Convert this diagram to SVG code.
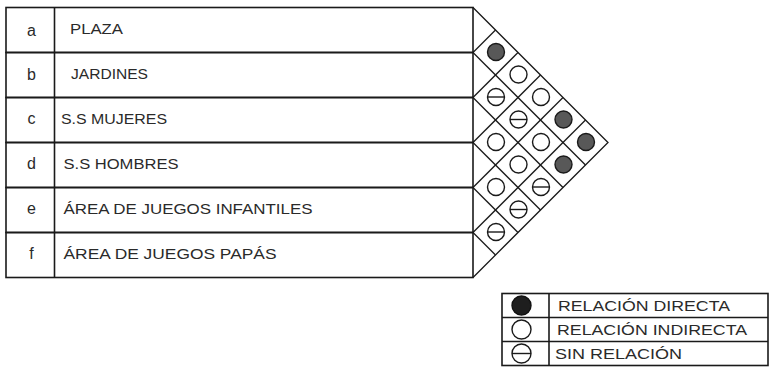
<svg xmlns="http://www.w3.org/2000/svg" width="770" height="369" viewBox="0 0 770 369">
<style>
.tbl{fill:none;stroke:#1a1a1a;stroke-width:1.6}
.grid{fill:none;stroke:#1a1a1a;stroke-width:1.3}
.t{font-family:"Liberation Sans",Arial,sans-serif;font-size:14px;fill:#2a2a2a}
.k{font-family:"Liberation Sans",Arial,sans-serif;font-size:16px;fill:#2a2a2a;text-anchor:middle}
.lt{font-family:"Liberation Sans",Arial,sans-serif;font-size:15px;fill:#2a2a2a}
.d{fill:#585858;stroke:#1a1a1a;stroke-width:1.4}
.o{fill:#fff;stroke:#1a1a1a;stroke-width:1.4}
.m{stroke:#1a1a1a;stroke-width:1.4}
</style>
<defs>
<circle id="cd" r="8.5" class="d"/>
<circle id="co" r="8.5" class="o"/>
<g id="cm"><circle r="8.5" class="o"/><line x1="-8.5" y1="0" x2="8.5" y2="0" class="m"/></g>
</defs>
<rect width="770" height="369" fill="#fff"/>

<g id="row-a"><rect x="6" y="7.5" width="467" height="45" class="tbl"/><line x1="54.5" y1="7.5" x2="54.5" y2="52.5" class="tbl"/><text x="31.5" y="36" class="k">a</text><text x="70" y="33.5" class="t" textLength="53" lengthAdjust="spacingAndGlyphs">PLAZA</text></g>
<g id="row-b"><rect x="6" y="52.5" width="467" height="45" class="tbl"/><line x1="54.5" y1="52.5" x2="54.5" y2="97.5" class="tbl"/><text x="31.5" y="80" class="k">b</text><text x="71" y="79" class="t" textLength="77" lengthAdjust="spacingAndGlyphs">JARDINES</text></g>
<g id="row-c"><rect x="6" y="97.5" width="467" height="45" class="tbl"/><line x1="54.5" y1="97.5" x2="54.5" y2="142.5" class="tbl"/><text x="31.5" y="124" class="k">c</text><text x="61" y="124" class="t" textLength="106" lengthAdjust="spacingAndGlyphs">S.S MUJERES</text></g>
<g id="row-d"><rect x="6" y="142.5" width="467" height="45" class="tbl"/><line x1="54.5" y1="142.5" x2="54.5" y2="187.5" class="tbl"/><text x="31.5" y="168.5" class="k">d</text><text x="63.5" y="168.5" class="t" textLength="115" lengthAdjust="spacingAndGlyphs">S.S HOMBRES</text></g>
<g id="row-e"><rect x="6" y="187.5" width="467" height="45" class="tbl"/><line x1="54.5" y1="187.5" x2="54.5" y2="232.5" class="tbl"/><text x="31.5" y="213.5" class="k">e</text><text x="63.5" y="213.5" class="t" textLength="249" lengthAdjust="spacingAndGlyphs">ÁREA DE JUEGOS INFANTILES</text></g>
<g id="row-f"><rect x="6" y="232.5" width="467" height="45" class="tbl"/><line x1="54.5" y1="232.5" x2="54.5" y2="277.5" class="tbl"/><text x="31.5" y="258.5" class="k">f</text><text x="63.5" y="258.5" class="t" textLength="213" lengthAdjust="spacingAndGlyphs">ÁREA DE JUEGOS PAPÁS</text></g>

<g id="connectors">
<polyline points="473,7.5 608,142.5 473,277.5" class="grid"/>
<line x1="473" y1="52.5" x2="495.5" y2="30" class="grid"/>
<line x1="473" y1="97.5" x2="518" y2="52.5" class="grid"/>
<line x1="473" y1="142.5" x2="540.5" y2="75" class="grid"/>
<line x1="473" y1="187.5" x2="563" y2="97.5" class="grid"/>
<line x1="473" y1="232.5" x2="585.5" y2="120" class="grid"/>
<line x1="473" y1="52.5" x2="585.5" y2="165" class="grid"/>
<line x1="473" y1="97.5" x2="563" y2="187.5" class="grid"/>
<line x1="473" y1="142.5" x2="540.5" y2="210" class="grid"/>
<line x1="473" y1="187.5" x2="518" y2="232.5" class="grid"/>
<line x1="473" y1="232.5" x2="495.5" y2="255" class="grid"/>
</g>

<g id="cells">
<use href="#cd" x="496" y="52"/>
<use href="#cm" x="496" y="97"/>
<use href="#co" x="496" y="142"/>
<use href="#co" x="496" y="187"/>
<use href="#cm" x="496" y="232"/>
<use href="#co" x="518.5" y="74.5"/>
<use href="#cm" x="518.5" y="119.5"/>
<use href="#co" x="518.5" y="164.5"/>
<use href="#cm" x="518.5" y="209.5"/>
<use href="#co" x="541" y="97"/>
<use href="#co" x="541" y="142"/>
<use href="#cm" x="541" y="187"/>
<use href="#cd" x="563.5" y="119.5"/>
<use href="#cd" x="563.5" y="164.5"/>
<use href="#cd" x="586" y="142"/>
</g>

<g id="legend">
<rect x="502" y="293.5" width="266" height="72" class="tbl"/>
<line x1="502" y1="317.5" x2="768" y2="317.5" class="tbl"/>
<line x1="502" y1="341.5" x2="768" y2="341.5" class="tbl"/>
<line x1="549" y1="293.5" x2="549" y2="365.5" class="tbl"/>
<circle cx="521.5" cy="305.5" r="9.5" fill="#1e1e1e" stroke="#111" stroke-width="1.4"/>
<circle cx="521.5" cy="329.5" r="9.5" class="o"/>
<circle cx="521.5" cy="353.5" r="9.5" class="o"/>
<line x1="512" y1="353.5" x2="531" y2="353.5" class="m"/>
<text x="558" y="311" class="lt" textLength="172" lengthAdjust="spacingAndGlyphs">RELACIÓN DIRECTA</text>
<text x="557" y="335" class="lt" textLength="190" lengthAdjust="spacingAndGlyphs">RELACIÓN INDIRECTA</text>
<text x="555" y="359" class="lt" textLength="127" lengthAdjust="spacingAndGlyphs">SIN RELACIÓN</text>
</g>
</svg>
